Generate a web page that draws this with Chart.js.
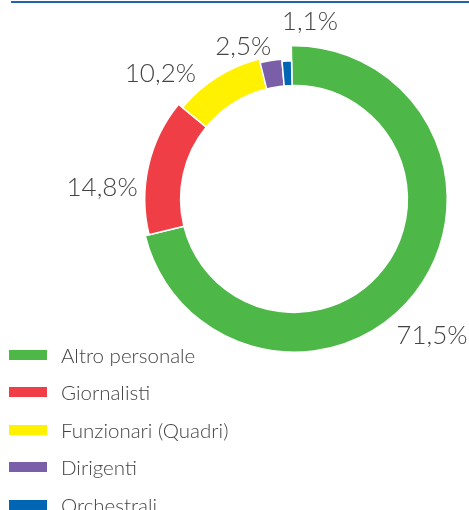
<!DOCTYPE html>
<html>
<head>
<meta charset="utf-8">
<script src="https://cdn.jsdelivr.net/npm/chart.js@4/dist/chart.umd.min.js"></script>
<style>
  html, body { margin: 0; padding: 0; background: #fff; width: 469px; height: 510px; overflow: hidden; }
  #wrap { position: relative; width: 469px; height: 510px; }
  #rule { position: absolute; left: 11px; right: 0; top: 1px; height: 2px; background: #2163ad; }
  #chart { position: absolute; left: 0; top: 0; }
  #legend { position: absolute; left: 9px; top: 336px; margin: 0; padding: 0; list-style: none;
            font-family: Lato, "Open Sans", sans-serif; font-weight: 300; font-size: 20.5px; color: #444; }
  #legend li { display: flex; align-items: center; height: 37.5px; white-space: nowrap; }
  #legend .box { display: inline-block; width: 38px; height: 10px; margin-right: 14px; }
</style>
</head>
<body>
<div id="wrap">
  <div id="rule"></div>
  <canvas id="chart" width="469" height="510"></canvas>
  <ul id="legend"></ul>
</div>
<script>
// Staff composition by category (% of total)
const categories = ['Altro personale', 'Giornalisti', 'Funzionari (Quadri)', 'Dirigenti', 'Orchestrali'];
const shares = [71.5, 14.8, 10.2, 2.5, 1.1];
const sliceColors = ['#4db848', '#ef3e45', '#fff100', '#7a5fa8', '#0066b3'];

// Ring thickness of each slice relative to the widest one
const ringScale = [1, 0.9, 0.775, 0.675, 0.625];
// Fine placement of the percentage labels around the ring (px)
const labelNudge = [[-1, 30], [-21, 27], [-40, 23], [-22, 20], [25, -2]];

const fmt = v => v.toFixed(1).replace('.', ',') + '%';

const variableRing = {
  id: 'variableRing',
  afterDatasetUpdate(chart, args) {
    const meta = chart.getDatasetMeta(args.index);
    meta.data.forEach((arc, i) => {
      const inner = arc.innerRadius;
      arc.outerRadius = inner + (arc.outerRadius - inner) * ringScale[i];
    });
  }
};

const sliceLabels = {
  id: 'sliceLabels',
  afterDatasetsDraw(chart) {
    const ctx = chart.ctx;
    const meta = chart.getDatasetMeta(0);
    const maxOuter = Math.max(...meta.data.map(a => a.outerRadius));
    ctx.save();
    ctx.font = '300 26px Lato, "Open Sans", sans-serif';
    ctx.fillStyle = '#444';
    ctx.textAlign = 'center';
    ctx.textBaseline = 'middle';
    meta.data.forEach((arc, i) => {
      const mid = (arc.startAngle + arc.endAngle) / 2;
      const r = maxOuter + 22;
      const x = arc.x + Math.cos(mid) * r + labelNudge[i][0];
      const y = arc.y + Math.sin(mid) * r + labelNudge[i][1];
      ctx.fillText(fmt(shares[i]), x, y);
    });
    ctx.restore();
  }
};

const chart = new Chart(document.getElementById('chart'), {
  type: 'doughnut',
  data: {
    labels: categories,
    datasets: [{
      data: shares,
      backgroundColor: sliceColors,
      borderColor: '#ffffff',
      borderWidth: 1.5
    }]
  },
  options: {
    responsive: false,
    animation: false,
    events: [],
    rotation: -1,
    cutout: '74%',
    layout: { padding: { left: 140, top: 45, right: 21, bottom: 157 } },
    plugins: {
      legend: { display: false },
      tooltip: { enabled: false }
    }
  },
  plugins: [variableRing, sliceLabels]
});

// Legend list built from the chart's own legend items
const legendEl = document.getElementById('legend');
chart.options.plugins.legend.labels.generateLabels(chart).forEach(item => {
  const li = document.createElement('li');
  const box = document.createElement('span');
  box.className = 'box';
  box.style.background = item.fillStyle;
  li.appendChild(box);
  li.appendChild(document.createTextNode(item.text));
  legendEl.appendChild(li);
});
</script>
</body>
</html>
